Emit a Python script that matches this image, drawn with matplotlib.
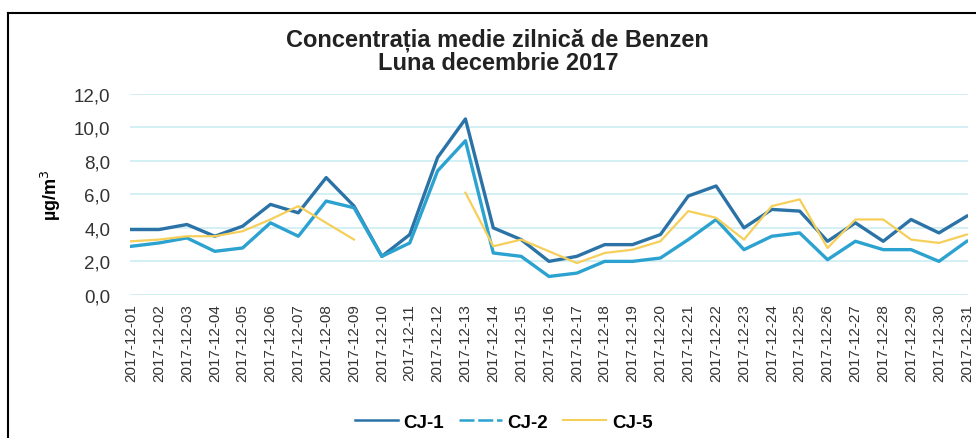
import numpy as np
import matplotlib.pyplot as plt
from matplotlib.lines import Line2D

plt.rcParams['font.family'] = ['Liberation Sans', 'DejaVu Sans']

days = [f"2017-12-{d:02d}" for d in range(1, 32)]

cj1 = [3.9, 3.9, 4.2, 3.5, 4.1, 5.4, 4.9, 7.0, 5.3, 2.3,
       3.6, 8.2, 10.5, 4.0, 3.3, 2.0, 2.3, 3.0, 3.0, 3.6,
       5.9, 6.5, 4.0, 5.1, 5.0, 3.2, 4.3, 3.2, 4.5, 3.7, 4.7]
cj2 = [2.9, 3.1, 3.4, 2.6, 2.8, 4.3, 3.5, 5.6, 5.2, 2.3,
       3.1, 7.4, 9.2, 2.5, 2.3, 1.1, 1.3, 2.0, 2.0, 2.2,
       3.3, 4.5, 2.7, 3.5, 3.7, 2.1, 3.2, 2.7, 2.7, 2.0, 3.2]
cj5 = [3.2, 3.3, 3.5, 3.5, 3.8, 4.5, 5.3, 4.3, 3.3, np.nan,
       np.nan, np.nan, 6.1, 2.9, 3.3, 2.6, 1.9, 2.5, 2.7, 3.2,
       5.0, 4.6, 3.3, 5.3, 5.7, 2.8, 4.5, 4.5, 3.3, 3.1, 3.6]

c1 = '#2b72a6'
c2 = '#2ba2cf'
c5 = '#f6cf5a'

fig = plt.figure(figsize=(9.76, 4.39), dpi=100)
ax = fig.add_axes([0.133, 0.326, 0.859, 0.458])

x = np.arange(len(days))
ax.plot(x, cj1, color=c1, lw=2.4)
ax.plot(x, cj2, color=c2, lw=2.4)
ax.plot(x, cj5, color=c5, lw=1.6)

ax.set_ylim(0, 12)
ax.set_xlim(-0.05, len(days) - 0.95)
ax.set_yticks(np.arange(0, 13, 2))
ax.set_yticklabels([f"{v:.1f}".replace('.', ',') for v in np.arange(0, 13, 2)],
                   fontsize=13.5, color='#333333')
ax.set_xticks(x)
ax.set_xticklabels(days, rotation=90, fontsize=11, color='#333333')
ax.tick_params(axis='x', length=0, pad=6)
ax.tick_params(axis='y', length=0, pad=14)
ax.grid(axis='y', color='#cdeef2', lw=1.2)
ax.set_axisbelow(True)
for s in ax.spines.values():
    s.set_visible(False)

ax.set_ylabel('µg/m$^3$', fontsize=13, fontweight='bold', labelpad=8)

fig.text(0.51, 0.908, 'Concentrația medie zilnică de Benzen', ha='center',
         va='center', fontsize=17, fontweight='bold', color='#222222')
fig.text(0.51, 0.855, 'Luna decembrie 2017', ha='center', va='center',
         fontsize=17, fontweight='bold', color='#222222')

handles = [Line2D([], [], color=c1, lw=1.8),
           Line2D([], [], color=c2, lw=1.8, ls=(0, (6, 1.5))),
           Line2D([], [], color=c5, lw=1.5)]
fig.legend(handles, ['CJ-1', 'CJ-2', 'CJ-5'], loc='center', ncol=3,
           bbox_to_anchor=(0.516, 0.036), frameon=False,
           prop={'weight': 'bold', 'size': 13.5}, handlelength=2.3,
           handletextpad=0.3, columnspacing=0.8)

# frame lines of the scanned page
fig.add_artist(Line2D([0.008, 1.0], [0.968, 0.968], color='black', lw=1.5))
fig.add_artist(Line2D([0.008, 0.008], [0.0, 0.968], color='black', lw=1.5))

fig.savefig('out.png', dpi=100)
